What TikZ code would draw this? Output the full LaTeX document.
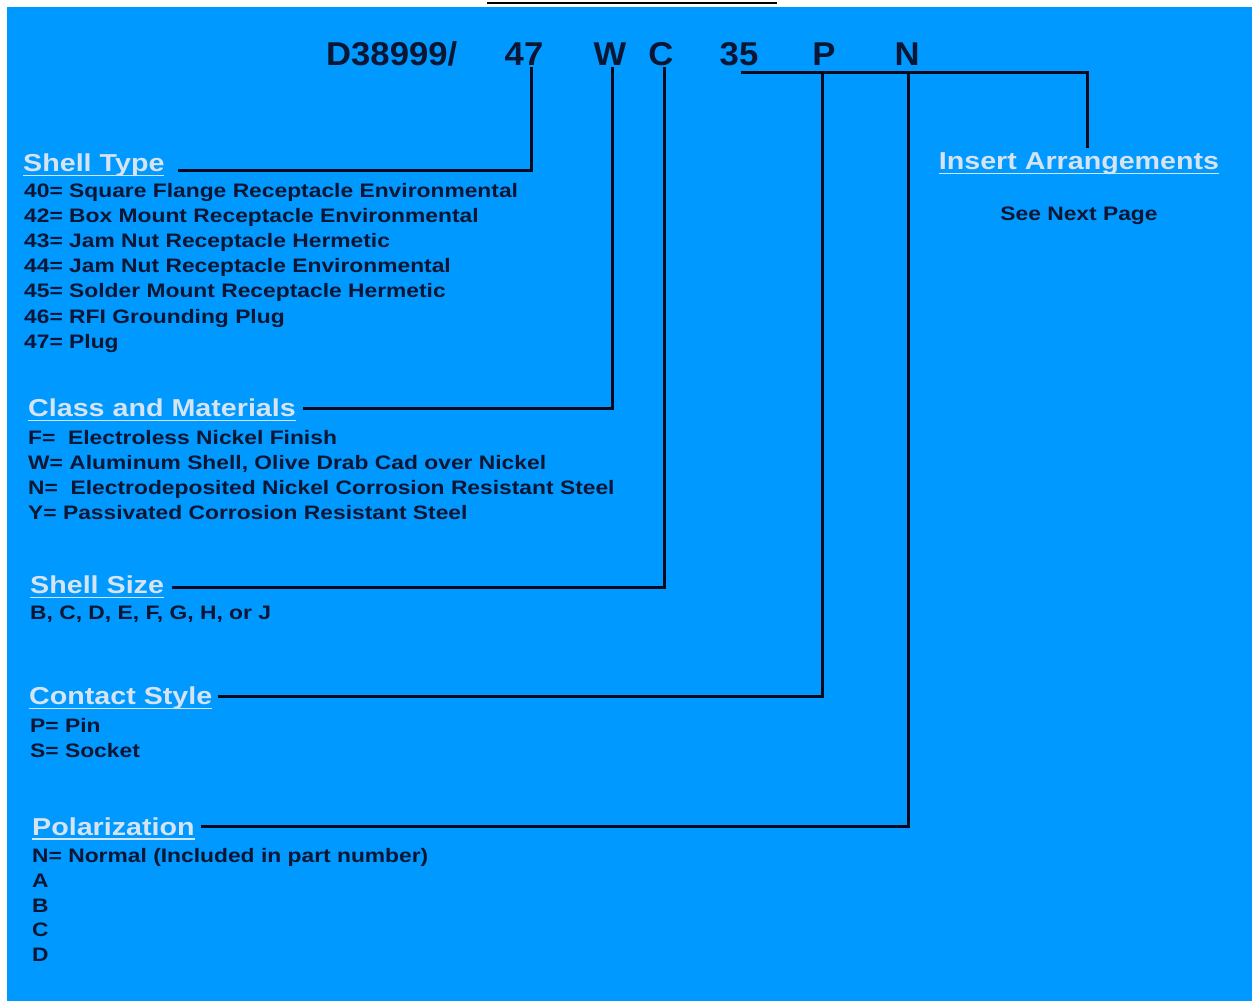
\documentclass[tikz,border=0pt]{standalone}
\usepackage{fontspec}
\newfontfamily\partfont[FakeStretch=1.17]{Liberation Sans}
\newfontfamily\titlefont[FakeStretch=1.05]{Liberation Sans}
\usetikzlibrary{positioning}

\definecolor{sheet}{RGB}{0,153,255}
\definecolor{ink}{RGB}{10,22,52}
\definecolor{headtext}{RGB}{214,227,240}
\definecolor{wirecol}{RGB}{4,10,30}

% underlined heading text
\newcommand{\ulhead}[1]{\setbox0\hbox{#1}\rlap{\rule[-4.5pt]{\wd0}{1.4pt}}\box0}

\begin{document}
\begin{tikzpicture}[x=1pt, y=-1pt,
    digit/.style={font=\titlefont\bfseries\fontsize{33}{34}\selectfont, text=ink, inner xsep=0pt, inner ysep=2pt, text height=23.5pt, text depth=0pt, anchor=base},
    head/.style={font=\partfont\bfseries\fontsize{24.5}{25}\selectfont, text=headtext, inner sep=0pt, text height=17.5pt, text depth=0pt, anchor=west},
    item/.style={font=\partfont\bfseries\fontsize{19.5}{25}\selectfont, text=ink, inner sep=0pt, anchor=base west},
    wire/.style={draw=wirecol, line width=3pt}
]
    \useasboundingbox (0,0) rectangle (1252,1001);
    \fill[sheet] (7,7) rectangle (1252,1001);
    \draw[line width=2.5pt] (487,3) -- (777,3);

    % Part number
    \node[digit, anchor=base west] (tPrefix) at (326,65) {D38999/};
    \node[digit] (tShell)   at (524,65) {47};
    \node[digit] (tClass)   at (610,65) {W};
    \node[digit] (tSize)    at (661,65) {C};
    \node[digit] (tInsert)  at (739,65) {35};
    \node[digit] (tContact) at (824,65) {P};
    \node[digit] (tPolar)   at (907,65) {N};

    % Headings
    \node[head] (hShell)   at (23,163)   {\ulhead{Shell Type}};
    \node[head] (hClass)   at (28,408)   {\ulhead{Class and Materials}};
    \node[head] (hSize)    at (30,585)   {\ulhead{Shell Size}};
    \node[head] (hContact) at (29,696)   {\ulhead{Contact Style}};
    \node[head] (hPolar)   at (32,826.5) {\ulhead{Polarization}};
    \node[head, anchor=center] (hInsert) at (1079,161) {\ulhead{Insert Arrangements}};
    \node[item, anchor=base] (seeNext) at (1079,220) {See Next Page};

    % Option lists
    \foreach \txt [count=\i] in {40= Square Flange Receptacle Environmental,
        42= Box Mount Receptacle Environmental, 43= Jam Nut Receptacle Hermetic,
        44= Jam Nut Receptacle Environmental, 45= Solder Mount Receptacle Hermetic,
        46= RFI Grounding Plug, 47= Plug}
        \node[item] (sType-\i) at (24,{197.5+25.1*(\i-1)}) {\txt};
    \foreach \txt [count=\i] in {F= \ Electroless Nickel Finish,
        {W= Aluminum Shell, Olive Drab Cad over Nickel},
        N= \ Electrodeposited Nickel Corrosion Resistant Steel,
        Y= Passivated Corrosion Resistant Steel}
        \node[item] (sClass-\i) at (28,{444+25*(\i-1)}) {\txt};
    \node[item] (sSize-1) at (30,619) {B, C, D, E, F, G, H, or J};
    \foreach \txt [count=\i] in {P= Pin, S= Socket}
        \node[item] (sContact-\i) at (30,{732.5+24.5*(\i-1)}) {\txt};
    \foreach \txt [count=\i] in {N= Normal (Included in part number), A, B, C, D}
        \node[item] (sPolar-\i) at (32,{862.5+24.8*(\i-1)}) {\txt};

    % Connections
    \draw[wire, shorten >=13pt] ([xshift=7pt]tShell.south) |- ([yshift=-7pt]hShell.east);
    \draw[wire, shorten >=7pt] ([xshift=2pt]tClass.south) |- (hClass.east);
    \draw[wire, shorten >=8pt] ([xshift=3pt]tSize.south) |- ([yshift=-2pt]hSize.east);
    \draw[wire, shorten >=4pt] ([xshift=2pt, yshift=-5pt]tInsert.south) -| ([xshift=8pt]hInsert.north);
    \draw[wire, shorten >=5pt] ([xshift=-2pt, yshift=-5pt]tContact.south) |- (hContact.east);
    \draw[wire, shorten >=6pt] ([xshift=1pt, yshift=-5pt]tPolar.south) |- (hPolar.east);
\end{tikzpicture}
\end{document}
